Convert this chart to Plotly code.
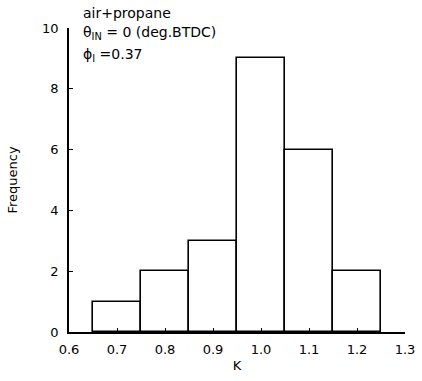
import plotly.graph_objects as go

# Histogram of K (bin centres) and the number of cycles in each bin
k_bins = [0.7, 0.8, 0.9, 1.0, 1.1, 1.2]
frequency = [1, 2, 3, 9, 6, 2]
x_ticks = [0.6, 0.7, 0.8, 0.9, 1.0, 1.1, 1.2, 1.3]
y_ticks = [0, 2, 4, 6, 8, 10]

font = dict(family="DejaVu Sans, Arial, sans-serif", size=13, color="black")
note_font = dict(family="DejaVu Sans, Arial, sans-serif", size=14, color="black")

fig = go.Figure(
    go.Bar(
        x=k_bins,
        y=frequency,
        width=0.1,
        marker=dict(color="white", line=dict(color="black", width=1.6)),
    )
)

fig.update_layout(
    width=422,
    height=381,
    margin=dict(l=69, r=17, t=28, b=49),
    plot_bgcolor="white",
    paper_bgcolor="white",
    font=font,
    showlegend=False,
    bargap=0,
)

fig.update_xaxes(
    range=[0.6, 1.3],
    tickvals=x_ticks,
    tickformat=".1f",
    ticks="inside",
    ticklen=4,
    tickwidth=1,
    tickcolor="black",
    ticklabelstandoff=5,
    showline=True,
    linecolor="black",
    linewidth=1.5,
    showgrid=False,
    zeroline=False,
    automargin=False,
    title=dict(text="K", standoff=5, font=dict(size=13)),
)
fig.update_yaxes(
    range=[0, 10],
    tickvals=y_ticks,
    ticks="inside",
    ticklen=4,
    tickwidth=1,
    tickcolor="black",
    ticklabelstandoff=6,
    showline=True,
    linecolor="black",
    linewidth=1.5,
    showgrid=False,
    zeroline=False,
    automargin=False,
    title=dict(text="Frequency", standoff=22, font=dict(size=13)),
)

notes = [
    ("air+propane", 1.05),
    ("θ<sub>IN</sub> = 0 (deg.BTDC)", 0.985),
    ("ϕ<sub>I</sub> =0.37", 0.91),
]
for text, y in notes:
    fig.add_annotation(
        text=text, xref="paper", yref="paper", x=0.035, y=y,
        xanchor="left", yanchor="middle", showarrow=False, font=note_font,
    )

fig.write_html("out.html")
